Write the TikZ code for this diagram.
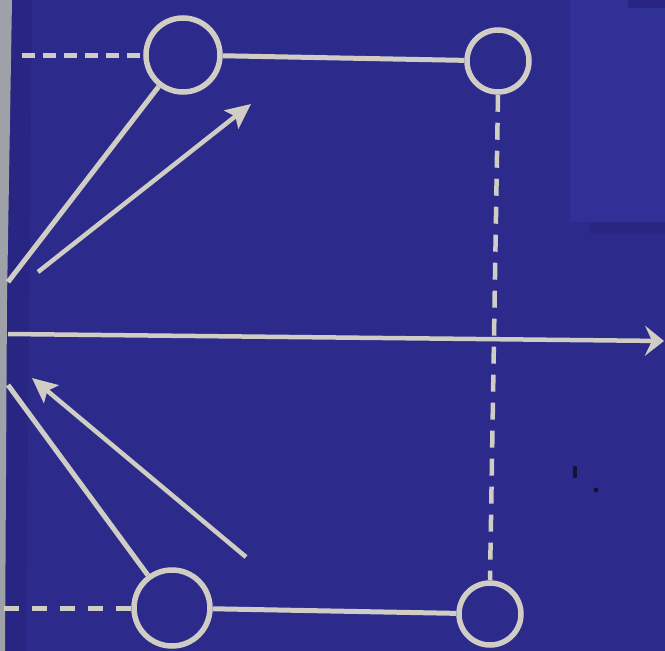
\documentclass[tikz,border=0pt]{standalone}
\usetikzlibrary{arrows.meta}
\definecolor{bgblue}{HTML}{2C2B8C}
\definecolor{patchblue}{HTML}{303096}
\definecolor{darkband}{HTML}{282682}
\definecolor{chalk}{HTML}{CFCDC4}
\definecolor{edgegray}{HTML}{9EA2A8}
\tikzset{
  ring/.style={circle,draw=chalk,line width=5.5pt,inner sep=0pt},
  solidline/.style={draw=chalk,line width=5pt},
  dashline/.style={draw=chalk,line width=5pt,dash pattern=on 13pt off 8pt},
  vdashline/.style={draw=chalk,line width=4.5pt,dash pattern=on 17pt off 11pt},
  thinarrow/.style={draw=chalk,line width=4.5pt,-{Stealth[length=25pt,width=23pt,inset=5pt]}},
  axisarrow/.style={draw=chalk,line width=4.5pt,-{Stealth[length=19pt,width=30pt,inset=7pt]}}
}
\begin{document}
\begin{tikzpicture}[x=1pt,y=-1pt]
% background
\fill[bgblue] (0,0) rectangle (665,651);
\useasboundingbox (0,0) rectangle (665,651);
\fill[patchblue] (570,0) rectangle (665,222);
\fill[darkband] (628,0) rectangle (665,8);
\fill[darkband] (590,222) rectangle (665,234);
\fill[darkband] (8,0) -- (32,0) -- (26,651) -- (5,651) -- cycle;
\fill[edgegray] (0,0) -- (12,0) -- (7,300) -- (5,651) -- (0,651) -- cycle;
\fill[black!60!bgblue] (573,466) rectangle (577,478);
\fill[black!60!bgblue] (596,490) circle (2.5);

% circles
\node[ring,minimum size=74pt] (tl) at (183,55) {};
\node[ring,minimum size=62pt] (tr) at (498,61) {};
\node[ring,minimum size=76pt] (bl) at (172,608) {};
\node[ring,minimum size=62pt] (br) at (490,614) {};

% free ends
\coordinate (tlL) at (22,55);
\coordinate (blL) at (4,608);
\coordinate (upL) at (8,282);
\coordinate (loL) at (8,385);
\coordinate (a1s) at (38,272);
\coordinate (a1e) at (251,104);
\coordinate (a2s) at (246,557);
\coordinate (a2e) at (32,378);
\coordinate (axS) at (8,334);
\coordinate (axE) at (664,341);

% connectors
\draw[dashline] (tlL) -- (tl.west);
\draw[dash pattern=on 15pt off 13pt,draw=chalk,line width=5pt] (blL) -- (bl.west);
\draw[solidline] (tl) -- (tr);
\draw[solidline] (bl) -- (br);
\draw[vdashline] (tr.south) -- (br.north);
\draw[solidline] (upL) -- (tl);
\draw[solidline] (loL) -- (bl);
\draw[axisarrow] (axS) -- (axE);
\draw[thinarrow] (a1s) -- (a1e);
\draw[thinarrow] (a2s) -- (a2e);
\end{tikzpicture}
\end{document}
